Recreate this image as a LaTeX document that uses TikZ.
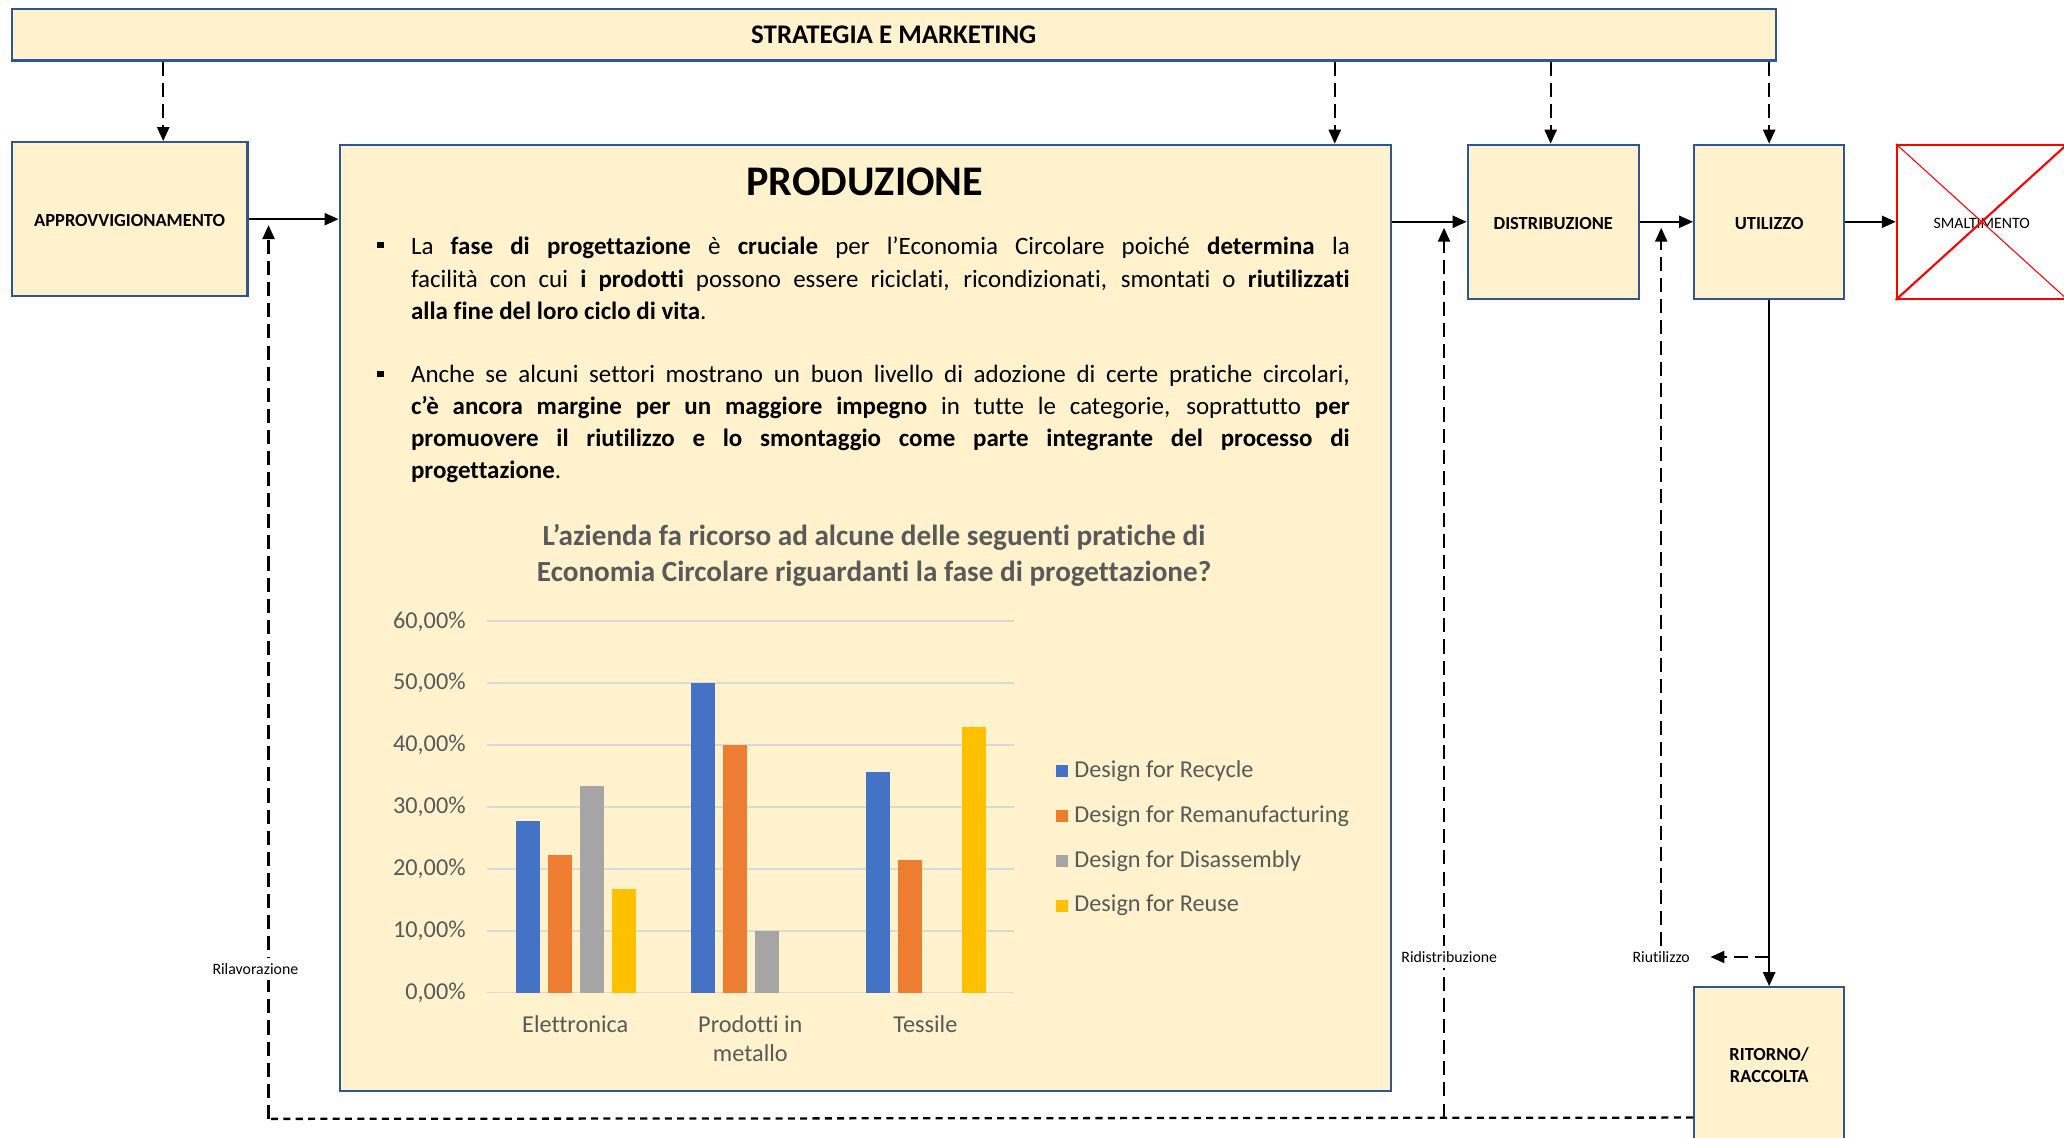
\documentclass[tikz,border=0pt]{standalone}
\usepackage{fontspec}
\setmainfont{Carlito}[Ligatures=CommonOff]
\usetikzlibrary{arrows.meta,fit}
\definecolor{phaseFill}{HTML}{FFF2CC}
\definecolor{phaseLine}{HTML}{2F5597}
\definecolor{chartText}{HTML}{595959}
\definecolor{chartGrid}{HTML}{D9D9D9}
\definecolor{bar0}{HTML}{4472C4}
\definecolor{bar1}{HTML}{ED7D31}
\definecolor{bar2}{HTML}{A5A5A5}
\definecolor{bar3}{HTML}{FFC000}
\newcommand{\phaseName}[1]{{\fontsize{10.5}{12.7}\selectfont\bfseries #1}}
\newcommand{\flowName}[1]{{\fontsize{9}{10.8}\selectfont #1}}
\tikzset{
  phase/.style={draw=phaseLine, fill=phaseFill, line width=1.2pt, inner sep=0pt},
  flow/.style={line width=1.3pt, -{Triangle[length=2.8mm,width=2.4mm]}},
  ctrl/.style={flow, dash pattern=on 8pt off 4pt},
  back/.style={line width=1.3pt, dash pattern=on 4pt off 3pt},
  flowtag/.style={fill=white, inner sep=3pt},
  bodytext/.style={anchor=north west, text width=18.77cm, align=justify, inner sep=0pt, font=\fontsize{14.2}{18.3}\selectfont},
  chartlabel/.style={font=\fontsize{13.8}{16.4}\selectfont, text=chartText, align=center},
}
\begin{document}
\begin{tikzpicture}[x=0.0263265cm, y=-0.0263265cm]
\useasboundingbox (0,0) rectangle (1568,864.5);
\fill[white] (0,0) rectangle (1568,864.5);

\node[phase, fit={(9,7) (1349,46)}, label=center:{\fontsize{15.3}{18}\selectfont\bfseries STRATEGIA E MARKETING}] (strategia) {};
\node[phase, fit={(9,108) (188,225)}, label={[yshift=-1pt]center:{\phaseName{APPROVVIGIONAMENTO}}}] (approv) {};
\node[phase, fit={(258,110) (1057,829)}] (produzione) {};
\node[phase, fit={(1115,110) (1245,227)}, label={[yshift=-1pt]center:{\phaseName{DISTRIBUZIONE}}}] (distribuzione) {};
\node[phase, fit={(1287,110) (1401,227)}, label={[yshift=-1pt]center:{\phaseName{UTILIZZO}}}] (utilizzo) {};
\node[phase, fit={(1287,750) (1401,871)}, label=center:{\phaseName{\begin{tabular}{@{}c@{}}RITORNO/\\RACCOLTA\end{tabular}}}] (ritorno) {};
\node[draw=red, line width=1.2pt, fill=white, inner sep=0pt, fit={(1441,110) (1570,227)}, label={[yshift=-1pt]center:{\fontsize{9}{11}\selectfont SMALTIMENTO}}] (smaltimento) {};
\draw[red, line width=0.6pt] (smaltimento.north west) -- (smaltimento.south east);
\draw[red, line width=1.2pt] (smaltimento.south west) -- (smaltimento.north east);

\node (prodTitle) at (657,138) {\fontsize{24}{28}\selectfont\bfseries PRODUZIONE};
\node[fill, minimum size=0.13cm, inner sep=0pt] (bulletA) at (289,186) {};
\node[fill, minimum size=0.13cm, inner sep=0pt] (bulletB) at (289,284) {};
\node[bodytext] (paraA) at (312,180) {La \textbf{fase di progettazione} è \textbf{cruciale} per l’Economia Circolare poiché \textbf{determina} la\linebreak facilità con cui \textbf{i prodotti} possono essere riciclati, ricondizionati, smontati o \textbf{riutilizzati}\linebreak \textbf{alla fine del loro ciclo di vita}.};
\node[bodytext] (paraB) at (312,277) {Anche se alcuni settori mostrano un buon livello di adozione di certe pratiche circolari,\linebreak \textbf{c’è ancora margine per un maggiore impegno} in tutte le categorie, soprattutto \textbf{per}\linebreak \textbf{promuovere il riutilizzo e lo smontaggio come parte integrante del processo di}\linebreak \textbf{progettazione}.};

\node[chartlabel, font=\fontsize{16.6}{20.5}\selectfont\bfseries] (chartTitle) at (664,422) {L’azienda fa ricorso ad alcune delle seguenti pratiche di\\Economia Circolare riguardanti la fase di progettazione?};
\foreach \i in {0,...,6} {
  \draw[chartGrid, line width=1pt] (370,{754-47*\i}) -- (770,{754-47*\i});
  \node[chartlabel, anchor=east, inner sep=0pt] (tick\i) at (354,{754-47*\i}) {\ifnum\i=0 0\else\i0\fi,00\%};
}
\foreach \g/\s/\v in {0/0/27.78, 0/1/22.22, 0/2/33.33, 0/3/16.67, 1/0/50, 1/1/40, 1/2/10, 2/0/35.71, 2/1/21.43, 2/3/42.86}
  \fill[fill=bar\s] ({392+133*\g+24.3*\s},754) rectangle ++(18,{-4.7*\v});
\node[chartlabel] (catA) at (437,778) {Elettronica};
\node[chartlabel] (catB) at (570,789) {Prodotti in\\metallo};
\node[chartlabel] (catC) at (703,778) {Tessile};
\foreach \s/\name in {0/Recycle, 1/Remanufacturing, 2/Disassembly, 3/Reuse} {
  \fill[fill=bar\s] (802,{581.5+34*\s}) rectangle ++(9,9);
  \node[chartlabel, anchor=west, inner sep=0pt] (legend\s) at (816,{586+34*\s}) {Design for \name};
}

\foreach \tgt/\x in {approv/124, produzione/1014, distribuzione/1178, utilizzo/1344}
  \draw[ctrl] (strategia.south -| \x,0) -- (\tgt.north -| \x,0);
\draw[flow] (approv.east) -- (approv.east -| produzione.west);
\draw[flow] (produzione.east |- distribuzione.west) -- (distribuzione.west);
\draw[flow] (distribuzione.east) -- (utilizzo.west);
\draw[flow] (utilizzo.east) -- (smaltimento.west);
\draw[flow] (utilizzo.south) -- (ritorno.north);

\coordinate (rilavTip) at (204,171);
\coordinate (rilavBase) at (204,850);
\coordinate (ridistTip) at (1097,173);
\coordinate (ridistBase) at (1097,849);
\coordinate (riutStart) at (1344,727);
\coordinate (riutTip) at (1262,173);
\draw[back] (ritorno.west |- ridistBase) -- (rilavBase);
\draw[ctrl] (rilavBase) -- (rilavTip);
\draw[ctrl] (ridistBase) -- (ridistTip);
\node[flowtag] (rilav) at (194,736) {\flowName{Rilavorazione}};
\node[flowtag] (ridist) at (1101,727) {\flowName{Ridistribuzione}};
\node[flowtag] (riut) at (1262,727) {\flowName{Riutilizzo}};
\draw[ctrl, shorten >=0.3cm] (riutStart) -- (riut);
\draw[ctrl] (riut) -- (riutTip);
\end{tikzpicture}
\end{document}
